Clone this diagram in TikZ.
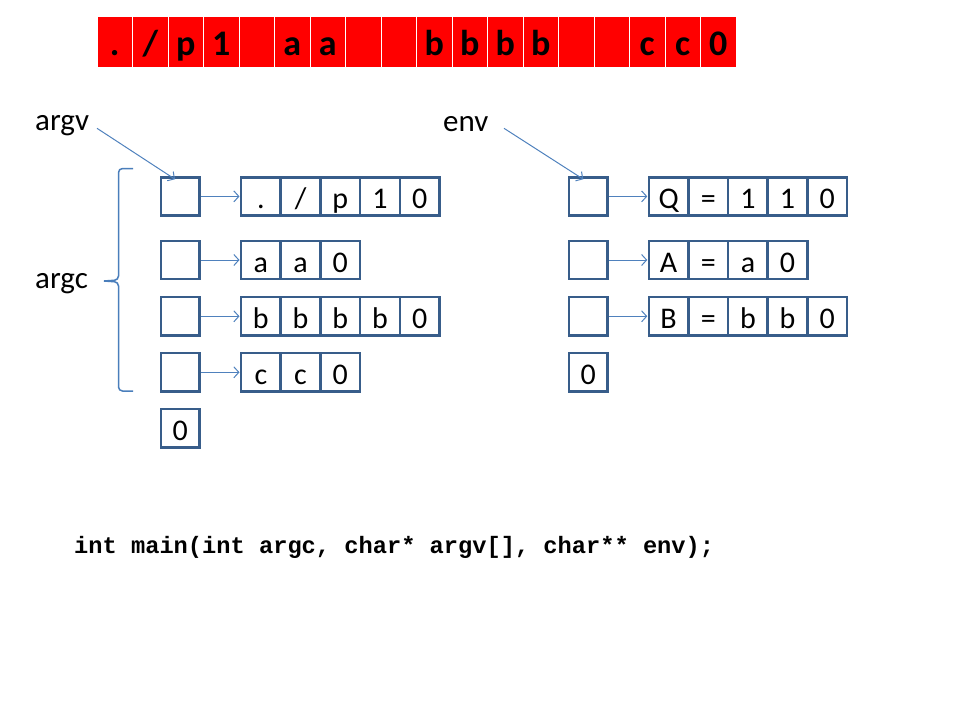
\documentclass[tikz,border=0pt]{standalone}
\usepackage{fontspec}
\setmainfont{Carlito}
\setmonofont{Liberation Mono}
\usetikzlibrary{arrows.meta}
\definecolor{boxc}{HTML}{385D8A}
\definecolor{arrc}{HTML}{4F81BD}
\definecolor{brc}{HTML}{4A7EBB}
\begin{document}
\begin{tikzpicture}[x=1pt,y=-1pt,
  cell/.style={draw=boxc, line width=2.5pt, minimum width=39.7pt, minimum height=38.3pt,
    inner sep=0pt, outer sep=0pt, text height=26pt, text depth=2pt,
    font=\fontsize{30}{30}\selectfont},
  ptr/.style={cell, minimum width=38.7pt},
  rcell/.style={fill=red, draw=white, line width=1pt, minimum width=35.5pt, minimum height=50.5pt,
    inner sep=0pt, outer sep=0pt, text height=30pt, text depth=3.4pt,
    font=\bfseries\fontsize{36}{36}\selectfont},
  link/.style={draw=arrc, line width=1pt, -{Straight Barb[length=5pt,width=11pt]}},
  lbl/.style={font=\fontsize{31}{31}\selectfont, inner sep=0pt, anchor=base west},
  bracec/.style={draw=brc, line width=1.5pt, rounded corners=4pt}
]
\useasboundingbox (0,0) rectangle (960,720);

% top memory bar
\foreach \t [count=\i] in {.,/,p,1,{},a,a,{},{},b,b,b,b,{},{},c,c,0}
  \node[rcell] (m\i) at ({97+35.5*(\i-0.5)},42) {\t};

% labels
\node[lbl] (argv) at (35,130) {argv};
\node[lbl] (argc) at (35,288) {argc};
\node[lbl] (env) at (443,131) {env};

% argv pointer column
\node[ptr] (pa1) at (180.3,196.4) {};
\node[ptr] (pa2) at (180.3,260) {};
\node[ptr] (pa3) at (180.3,316.3) {};
\node[ptr] (pa4) at (180.3,372.3) {};
\node[ptr] (pa5) at (180.3,428.2) {0};

% argv strings
\foreach \t [count=\i] in {.,/,p,1,0}
  \node[cell] (sa1c\i) at ({241+39.7*(\i-0.5)},196.4) {\t};
\foreach \t [count=\i] in {a,a,0}
  \node[cell] (sa2c\i) at ({241+39.7*(\i-0.5)},260) {\t};
\foreach \t [count=\i] in {b,b,b,b,0}
  \node[cell] (sa3c\i) at ({241+39.7*(\i-0.5)},316.3) {\t};
\foreach \t [count=\i] in {c,c,0}
  \node[cell] (sa4c\i) at ({241+39.7*(\i-0.5)},372.3) {\t};

% env pointer column
\node[ptr] (pe1) at (588.3,196.4) {};
\node[ptr] (pe2) at (588.3,260) {};
\node[ptr] (pe3) at (588.3,316.3) {};
\node[ptr] (pe4) at (588.3,372.3) {0};

% env strings
\foreach \t [count=\i] in {Q,=,1,1,0}
  \node[cell] (se1c\i) at ({648.8+39.65*(\i-0.5)},196.4) {\t};
\foreach \t [count=\i] in {A,=,a,0}
  \node[cell] (se2c\i) at ({648.8+39.65*(\i-0.5)},260) {\t};
\foreach \t [count=\i] in {B,=,b,b,0}
  \node[cell] (se3c\i) at ({648.8+39.65*(\i-0.5)},316.3) {\t};

% pointer arrows
\draw[link] ([xshift=1.5pt]pa1.east) -- ([xshift=-1.5pt]sa1c1.west);
\draw[link] ([xshift=1.5pt]pa2.east) -- ([xshift=-1.5pt]sa2c1.west);
\draw[link] ([xshift=1.5pt]pa3.east) -- ([xshift=-1.5pt]sa3c1.west);
\draw[link] ([xshift=1.5pt]pa4.east) -- ([xshift=-1.5pt]sa4c1.west);
\draw[link] ([xshift=1.5pt]pe1.east) -- ([xshift=-1.5pt]se1c1.west);
\draw[link] ([xshift=1.5pt]pe2.east) -- ([xshift=-1.5pt]se2c1.west);
\draw[link] ([xshift=1.5pt]pe3.east) -- ([xshift=-1.5pt]se3c1.west);

% label arrows
\coordinate (av) at (97,128.3);
\coordinate (ev) at (504,128.3);
\draw[link] (av) -- ([xshift=-5.3pt,yshift=-2pt]pa1.north);
\draw[link] (ev) -- ([xshift=-5pt,yshift=-2pt]pe1.north);

% brace for argc
\coordinate (bt) at (133,168.5);
\coordinate (bm) at (104,281);
\coordinate (bb) at (133,391);
\draw[bracec] (bt) -- (118.5,168.5) -- (118.5,280) -- (bm);
\draw[bracec] (bm) -- (118.5,282) -- (118.5,391) -- (bb);

% prototype
\node[inner sep=0pt, anchor=base west, font=\ttfamily\bfseries\fontsize{23.7}{23.7}\selectfont] (proto) at (74,553)
  {int main(int argc, char* argv[], char** env);};
\end{tikzpicture}
\end{document}
